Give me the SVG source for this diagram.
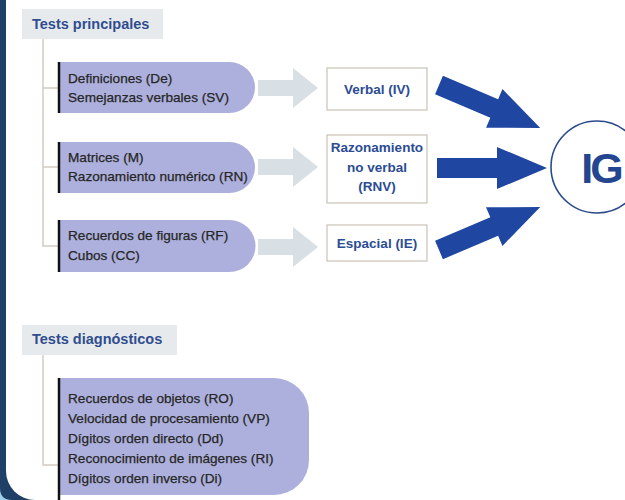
<svg xmlns="http://www.w3.org/2000/svg" width="625" height="500" viewBox="0 0 625 500">
<defs>
<style>
.hdr{fill:#e7eaed;}
.hdrt{font-family:"Liberation Sans",Arial,sans-serif;font-weight:bold;font-size:14.5px;fill:#2f4d8f;}
.pill{fill:#adb0dc;}
.bar{stroke:#111;stroke-width:2.5;fill:none;}
.pt{font-family:"Liberation Sans",Arial,sans-serif;font-size:13.6px;fill:#262626;stroke:#262626;stroke-width:0.25;}
.box{fill:#fff;stroke:#cbc1b8;stroke-width:1.2;}
.bt{font-family:"Liberation Sans",Arial,sans-serif;font-weight:bold;font-size:13.5px;fill:#2c4c94;text-anchor:middle;}
.line{stroke:#d3cbc4;stroke-width:1.5;fill:none;}
.garrow{fill:#d9e0e5;}
.barrow{fill:#1f47a1;}
</style>
<path id="ba" d="M0,-10 L60,-10 L60,-21 L110,0 L60,21 L60,10 L0,10 Z"/>
<path id="ga" d="M0,-8 L35,-8 L35,-20 L60,0 L35,20 L35,8 L0,8 Z"/>
</defs>
<rect x="0" y="0" width="625" height="500" fill="#1e3f66"/>
<path d="M0,488 Q0,500 12,500 L0,500 Z" fill="#9fd0ea"/>
<path d="M6,0 H625 V500 H35 A29,29 0 0 1 6,471 Z" fill="#ffffff"/>

<g id="connectors">
<path class="line" d="M43,39 V246 H58 M43,88 H58 M43,167 H58"/>
<path class="line" d="M43,355 V465 H58"/>
<use href="#ga" class="garrow" transform="translate(258,88)"/>
<use href="#ga" class="garrow" transform="translate(258,167)"/>
<use href="#ga" class="garrow" transform="translate(258,247)"/>
<use href="#ba" class="barrow" transform="translate(439,85) rotate(23)"/>
<use href="#ba" class="barrow" transform="translate(437,168)"/>
<use href="#ba" class="barrow" transform="translate(439,250) rotate(-23)"/>
</g>

<g id="tests-principales">
<rect class="hdr" x="22" y="9" width="141" height="30"/>
<text class="hdrt" x="32" y="29">Tests principales</text>
</g>

<g id="pill-verbal">
<path class="pill" d="M58,62 H229.5 A25.5,25.5 0 0 1 229.5,113 H58 Z"/>
<line class="bar" x1="59" y1="62" x2="59" y2="113"/>
<text class="pt" x="68" y="83">Definiciones (De)</text>
<text class="pt" x="68" y="102">Semejanzas verbales (SV)</text>
</g>

<g id="pill-noverbal">
<path class="pill" d="M58,142 H229.5 A25.5,25.5 0 0 1 229.5,193 H58 Z"/>
<line class="bar" x1="59" y1="142" x2="59" y2="193"/>
<text class="pt" x="68" y="162">Matrices (M)</text>
<text class="pt" x="68" y="181">Razonamiento numérico (RN)</text>
</g>

<g id="pill-espacial">
<path class="pill" d="M58,220 H229.5 A26,26 0 0 1 229.5,272 H58 Z"/>
<line class="bar" x1="59" y1="220" x2="59" y2="272"/>
<text class="pt" x="68" y="240">Recuerdos de figuras (RF)</text>
<text class="pt" x="68" y="260">Cubos (CC)</text>
</g>

<g id="box-verbal">
<rect class="box" x="327" y="68" width="100" height="42"/>
<text class="bt" x="377" y="94">Verbal (IV)</text>
</g>

<g id="box-rnv">
<rect class="box" x="327" y="135" width="100" height="68"/>
<text class="bt" x="377" y="152">Razonamiento</text>
<text class="bt" x="377" y="172">no verbal</text>
<text class="bt" x="377" y="191">(RNV)</text>
</g>

<g id="box-espacial">
<rect class="box" x="327" y="225" width="100" height="36"/>
<text class="bt" x="377" y="248">Espacial (IE)</text>
</g>

<g id="ig">
<circle cx="597" cy="167" r="46" fill="#fff" stroke="#2b4a8a" stroke-width="1.6"/>
<text x="601" y="183" font-family="'Liberation Sans',Arial,sans-serif" font-weight="bold" font-size="43" letter-spacing="-3" fill="#24458f" text-anchor="middle">IG</text>
</g>

<g id="tests-diagnosticos">
<rect class="hdr" x="22" y="325" width="155" height="30"/>
<text class="hdrt" x="32" y="344">Tests diagnósticos</text>
</g>

<g id="pill-diagnosticos">
<path class="pill" d="M58,378 H274 A35,35 0 0 1 309,413 V460 A35,35 0 0 1 274,495 H58 Z"/>
<line class="bar" x1="59" y1="378" x2="59" y2="500"/>
<text class="pt" x="68" y="403">Recuerdos de objetos (RO)</text>
<text class="pt" x="68" y="423">Velocidad de procesamiento (VP)</text>
<text class="pt" x="68" y="443">Dígitos orden directo (Dd)</text>
<text class="pt" x="68" y="463">Reconocimiento de imágenes (RI)</text>
<text class="pt" x="68" y="483">Dígitos orden inverso (Di)</text>
</g>
</svg>
